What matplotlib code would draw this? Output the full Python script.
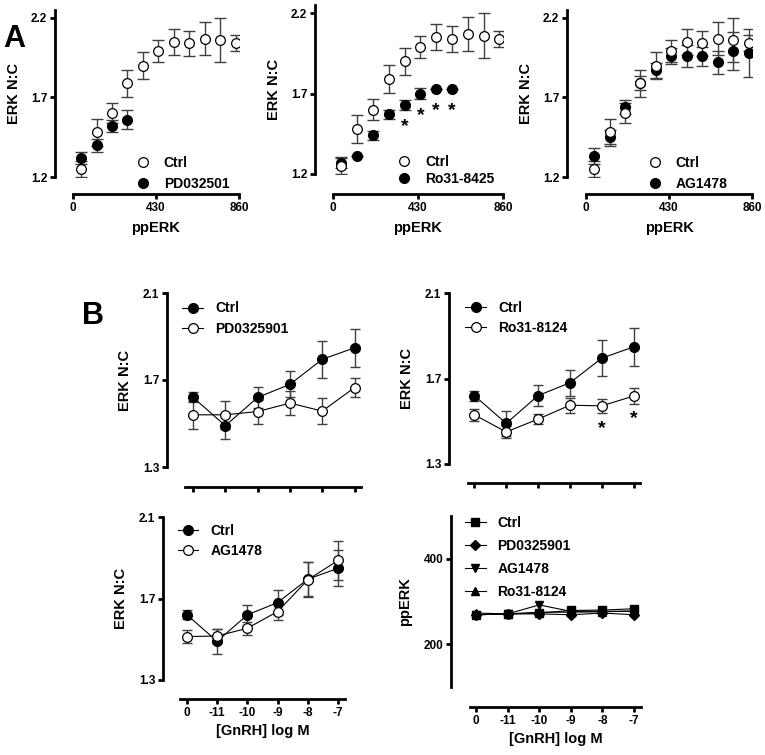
import matplotlib.pyplot as plt

plt.rcParams['font.family'] = ['Liberation Sans', 'DejaVu Sans']
plt.rcParams['font.weight'] = 'bold'
plt.rcParams['axes.labelweight'] = 'bold'

# ---- panel A data (ERK N:C vs ppERK) ----
a_x = [42, 122, 202, 282, 362, 442, 522, 602, 682, 762, 842]
ctrl_a = [1.25, 1.48, 1.60, 1.79, 1.90, 1.99, 2.05, 2.04, 2.07, 2.06, 2.04]
ctrl_a_err = [0.05, 0.085, 0.063, 0.085, 0.085, 0.07, 0.08, 0.08, 0.105, 0.14, 0.05]

pd_a = [1.32, 1.40, 1.52, 1.56]
pd_a_err = [0.04, 0.04, 0.04, 0.06]

ro_a = [1.27, 1.31, 1.44, 1.57, 1.63, 1.70, 1.73, 1.73]
ro_a_err = [0.035, 0.0, 0.03, 0.03, 0.03, 0.035, 0.0, 0.0]
ro_a_sig = [4, 5, 6, 7]

ag_a = [1.33, 1.45, 1.64, 1.79, 1.87, 1.96, 1.96, 1.96, 1.92, 1.99, 1.98]
ag_a_err = [0.05, 0.045, 0.045, 0.045, 0.045, 0.048, 0.07, 0.06, 0.07, 0.12, 0.15]

# ---- panel B data (vs [GnRH]) ----
gnrh = ["0", "-11", "-10", "-9", "-8", "-7"]
ctrl_b = [1.62, 1.49, 1.62, 1.68, 1.795, 1.848]
ctrl_b_err = [0.023, 0.06, 0.05, 0.06, 0.085, 0.088]
pd_b = [1.54, 1.54, 1.555, 1.594, 1.557, 1.665]
pd_b_err = [0.063, 0.063, 0.055, 0.055, 0.06, 0.045]
ro_b = [1.53, 1.45, 1.51, 1.575, 1.572, 1.618]
ro_b_err = [0.028, 0.027, 0.025, 0.035, 0.033, 0.038]
ro_b_sig = [4, 5]
ag_b = [1.513, 1.516, 1.554, 1.636, 1.792, 1.887]
ag_b_err = [0.03, 0.033, 0.033, 0.04, 0.085, 0.095]

# ppERK levels
pp_ctrl = [269, 271, 273, 279, 280, 283]
pp_pd = [269, 271, 271, 269, 273, 269]
pp_ag = [269, 271, 292, 277, 277, 277]
pp_ro = [273, 271, 275, 275, 276, 278]

W, H = 765, 755
fig = plt.figure(figsize=(W / 100, H / 100), dpi=100)


def px_axes(left, top, right, bottom, out_left, out_bottom):
    ax = fig.add_axes([left / W, 1 - bottom / H, (right - left) / W, (bottom - top) / H])
    ax.spines['top'].set_visible(False)
    ax.spines['right'].set_visible(False)
    ax.spines['left'].set_position(('outward', out_left * 0.72))
    ax.spines['bottom'].set_position(('outward', out_bottom * 0.72))
    for s in ('left', 'bottom'):
        ax.spines[s].set_linewidth(2)
    ax.tick_params(width=2, length=3.5, labelsize=8.5, pad=2)
    ax.patch.set_alpha(0)
    return ax


def panel_a(ax, vals, errs, label):
    n = len(vals)
    ax.errorbar(a_x, ctrl_a, yerr=ctrl_a_err, fmt='none', ecolor='0.25',
                elinewidth=1, capsize=4.5, capthick=1)
    ax.errorbar(a_x[:n], vals, yerr=errs, fmt='none', ecolor='0.25',
                elinewidth=1, capsize=4.5, capthick=1)
    ax.plot(a_x, ctrl_a, 'o', ms=7, mfc='white', mec='black', mew=0.9,
            label='Ctrl', zorder=4)
    ax.plot(a_x[:n], vals, 'o', ms=7, mfc='black', mec='black',
            label=label, zorder=3)
    ax.set_xlim(0, 860)
    ax.set_ylim(1.2, 2.25)
    ax.set_xticks([0, 430, 860])
    ax.set_yticks([1.2, 1.7, 2.2])
    ax.set_xlabel('ppERK', fontsize=10.5, labelpad=5)
    ax.set_ylabel('ERK N:C', fontsize=10.5, labelpad=7)


# ---------- row A ----------
a1 = px_axes(73, 10, 239, 177, 18, 17)
panel_a(a1, pd_a, pd_a_err, 'PD032501')
a1.legend(loc='center left', bbox_to_anchor=(0.38, 0.02), frameon=False,
          handlelength=1.0, handletextpad=1.0, borderpad=0, borderaxespad=0,
          labelspacing=0.5, prop={'size': 10, 'weight': 'bold'})

a2 = px_axes(333, 5, 503, 174, 18, 20)
panel_a(a2, ro_a, ro_a_err, 'Ro31-8425')
for i in ro_a_sig:
    a2.annotate('*', (a_x[i], ro_a[i]), xytext=(0, -16), textcoords='offset points',
                ha='center', va='center', fontsize=14)
a2.legend(loc='center left', bbox_to_anchor=(0.378, 0.02), frameon=False,
          handlelength=1.0, handletextpad=1.0, borderpad=0, borderaxespad=0,
          labelspacing=0.25, prop={'size': 10, 'weight': 'bold'})

a3 = px_axes(586, 10, 752, 177, 19, 17)
panel_a(a3, ag_a, ag_a_err, 'AG1478')
a3.legend(loc='center left', bbox_to_anchor=(0.373, 0.02), frameon=False,
          handlelength=1.0, handletextpad=1.0, borderpad=0, borderaxespad=0,
          labelspacing=0.5, prop={'size': 10, 'weight': 'bold'})

fig.text(3 / W, 1 - 39 / H, 'A', fontsize=22, fontweight='bold', va='center', ha='left')
fig.text(82 / W, 1 - 316 / H, 'B', fontsize=22, fontweight='bold', va='center', ha='left')


# ---------- row B ----------
def panel_b(ax, vals, errs, label, xlim):
    x = range(len(gnrh))
    ax.errorbar(x, ctrl_b, yerr=ctrl_b_err, fmt='none', ecolor='0.25',
                elinewidth=1, capsize=3.5, capthick=1)
    ax.errorbar(x, vals, yerr=errs, fmt='none', ecolor='0.25',
                elinewidth=1, capsize=3.5, capthick=1)
    ax.plot(x, ctrl_b, '-o', color='black', lw=0.8, ms=7, mfc='black',
            label='Ctrl', zorder=3)
    ax.plot(x, vals, '-o', color='black', lw=0.8, ms=7, mfc='white', mew=0.9,
            label=label, zorder=4)
    ax.set_xlim(*xlim)
    ax.set_ylim(1.3, 2.1)
    ax.set_yticks([1.3, 1.7, 2.1])
    ax.set_xticks(list(x))
    ax.set_ylabel('ERK N:C', fontsize=10.5, labelpad=8)


b1 = px_axes(185, 293, 361, 467, 18, 20)
panel_b(b1, pd_b, pd_b_err, 'PD0325901', (-0.25, 5.2))
b1.set_xticklabels([])

b2 = px_axes(468, 293, 640, 464, 19, 19)
panel_b(b2, ro_b, ro_b_err, 'Ro31-8124', (-0.2, 5.2))
b2.set_xticklabels([])
for i in ro_b_sig:
    b2.annotate('*', (i, ro_b[i]), xytext=(0, -16), textcoords='offset points',
                ha='center', va='center', fontsize=14)

b3 = px_axes(180, 517, 345, 680, 17, 19)
panel_b(b3, ag_b, ag_b_err, 'AG1478', (-0.23, 5.23))
b3.set_xticklabels(gnrh)
b3.set_xlabel('[GnRH] log M', fontsize=10.5, labelpad=4)

for ax in (b1, b2, b3):
    ax.legend(loc='center left', bbox_to_anchor=(-0.015, 0.853), frameon=False,
              handlelength=1.5, handletextpad=0.85, borderpad=0, borderaxespad=0,
              labelspacing=0.45, prop={'size': 10, 'weight': 'bold'})

b4 = px_axes(470, 516, 641, 687, 19, 20)
xb = range(len(gnrh))
b4.plot(xb, pp_ctrl, '-s', color='black', lw=0.8, ms=6, label='Ctrl')
b4.plot(xb, pp_pd, '-D', color='black', lw=0.8, ms=5, label='PD0325901')
b4.plot(xb, pp_ag, '-v', color='black', lw=0.8, ms=6, label='AG1478')
b4.plot(xb, pp_ro, '-^', color='black', lw=0.8, ms=6, label='Ro31-8124')
b4.set_xlim(-0.19, 5.22)
b4.set_ylim(100, 500)
b4.set_yticks([200, 400])
b4.set_xticks(list(xb))
b4.set_xticklabels(gnrh)
b4.set_xlabel('[GnRH] log M', fontsize=10.5, labelpad=4)
b4.set_ylabel('ppERK', fontsize=10.5, labelpad=8)
b4.legend(loc='center left', bbox_to_anchor=(-0.03, 0.757), frameon=False,
          handlelength=1.5, handletextpad=0.85, borderpad=0, borderaxespad=0,
          labelspacing=0.65, prop={'size': 10, 'weight': 'bold'})

fig.savefig('out.png', dpi=100)
